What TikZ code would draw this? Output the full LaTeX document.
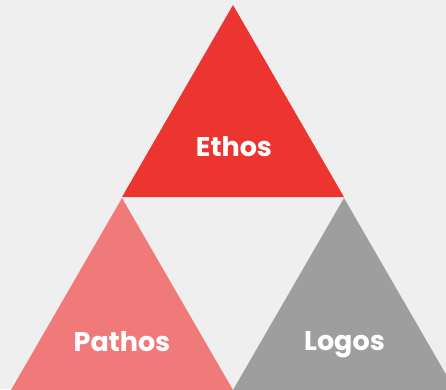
\documentclass[tikz,border=0pt]{standalone}
\usepackage{fontspec}
\setmainfont{Poppins}
\usepackage{tikz}

\definecolor{bgGray}{HTML}{EFEFEF}
\definecolor{ethosRed}{HTML}{EC3431}
\definecolor{pathosPink}{HTML}{F07A79}
\definecolor{logosGray}{HTML}{9E9E9E}

\tikzset{
  label text/.style={anchor=base, text=white, font=\bfseries\fontsize{27}{31}\selectfont, inner sep=0pt},
}

\begin{document}
\begin{tikzpicture}[x=1pt, y=-1pt]
    \fill[bgGray] (0,0) rectangle (446,389);
    \useasboundingbox (0,0) rectangle (446,389);
    % three triangles
    \fill[ethosRed]   (233,5)   -- (122,197) -- (344,197) -- cycle;
    \fill[pathosPink] (122,198) -- (11,390)  -- (233,390) -- cycle;
    \fill[logosGray]  (344,198) -- (233,390) -- (455,390) -- cycle;
    % labels
    \node[label text] (ethos)  at (234,156) {Ethos};
    \node[label text] (pathos) at (122,351) {Pathos};
    \node[label text] (logos)  at (344.5,350) {Logos};
\end{tikzpicture}
\end{document}
